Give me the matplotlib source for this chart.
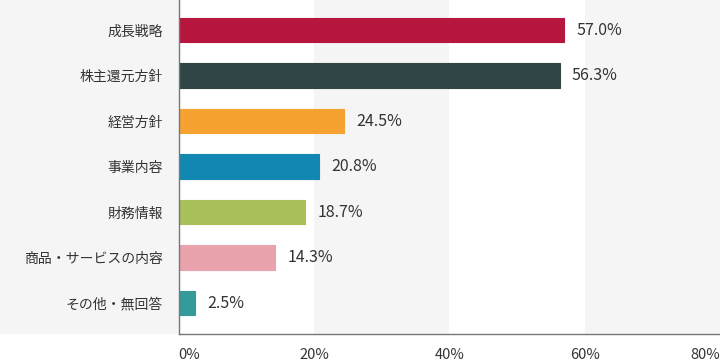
import matplotlib
matplotlib.use("Agg")
import matplotlib.pyplot as plt
from matplotlib.patches import Rectangle

categories = ["成長戦略", "株主還元方針", "経営方針", "事業内容", "財務情報", "商品・サービスの内容", "その他・無回答"]
values = [57.0, 56.3, 24.5, 20.8, 18.7, 14.3, 2.5]
colors = ["#b7173f", "#2f4546", "#f5a230", "#1287b1", "#a9c05b", "#e8a3ad", "#349b9a"]
xticks = [0, 20, 40, 60, 80]
xticklabels = ["0%", "20%", "40%", "60%", "80%"]

plt.rcParams['font.family'] = ['Noto Sans CJK JP', 'DejaVu Sans']

W, H = 720, 362
fig = plt.figure(figsize=(W / 100, H / 100), dpi=100, facecolor="white")
left = 178.5 / W
bottom = (H - 334) / H

# gray label area (behind everything)
bg = Rectangle((0, bottom), left, 1 - bottom, transform=fig.transFigure,
               facecolor="#f5f5f5", edgecolor="none", zorder=-10)
fig.patches.append(bg)

ax = fig.add_axes([left, bottom, 1 - left, 1 - bottom])
ax.set_zorder(1)

ax.set_facecolor("white")
ax.axvspan(20, 40, color="#f5f5f5", zorder=0, lw=0)
ax.axvspan(60, 80, color="#f5f5f5", zorder=0, lw=0)

ypos = list(range(len(categories)))
ax.barh(ypos, values, height=0.53, color=colors, edgecolor=colors, linewidth=0.8, zorder=2)
for y, v in zip(ypos, values):
    ax.text(v + 1.8, y, f"{v:.1f}%", va="center", ha="left", fontsize=11.5, color="#333333", zorder=3)

ax.set_xlim(0, 80)
ax.set_ylim(6.68, -0.66)
ax.set_yticks(ypos)
ax.set_yticklabels(categories, fontsize=10, color="#333333")
ax.set_xticks(xticks)
ax.set_xticklabels(xticklabels, fontsize=10.5, color="#333333")
lbls = ax.get_xticklabels()
lbls[0].set_ha("left")
lbls[-1].set_ha("right")
ax.tick_params(axis="both", length=0)
ax.tick_params(axis="y", pad=11)
ax.tick_params(axis="x", pad=10)
for s in ["top", "right"]:
    ax.spines[s].set_visible(False)
for s in ["left", "bottom"]:
    ax.spines[s].set_color("#777777")
    ax.spines[s].set_linewidth(1.0)
    ax.spines[s].set_zorder(4)

fig.savefig("out.png", dpi=100, facecolor="white")
